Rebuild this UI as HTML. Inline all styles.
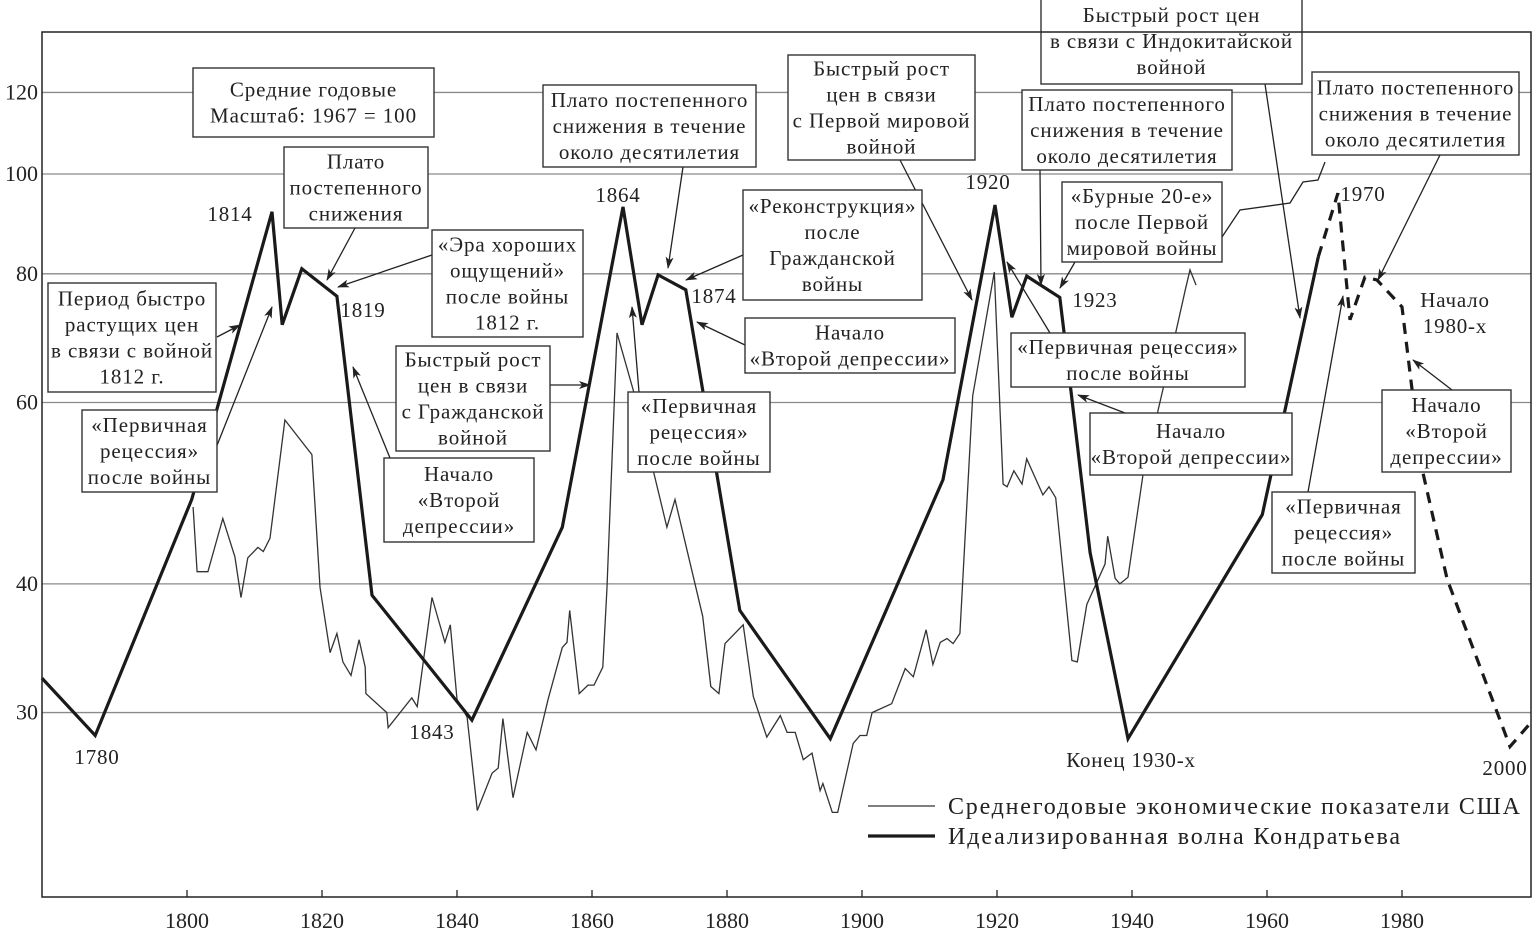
<!DOCTYPE html>
<html><head><meta charset="utf-8"><style>
html,body{margin:0;padding:0;background:#fff;}
svg{display:block;font-family:"Liberation Serif","DejaVu Serif",serif;}
</style></head><body>
<svg id="chart" width="1533" height="938" viewBox="0 0 1533 938">
<defs><marker id="ah" markerWidth="12" markerHeight="8" refX="11" refY="4" orient="auto" markerUnits="userSpaceOnUse"><path d="M0,0 L12,4 L0,8 L3,4 Z" fill="#222"/></marker></defs>
<g id="grid"></g>
<g id="series"></g>
<g id="ann"></g>
<g id="axes"></g>
</svg>
<script>
// ---- data ----
const yTicks = [120, 100, 80, 60, 40, 30];
const xTicks = [1800, 1820, 1840, 1860, 1880, 1900, 1920, 1940, 1960, 1980];
const waveYears = [1778.5,1786.4,1800.7,1812.6,1814.1,1817.0,1822.2,1827.4,1842.2,1855.6,1864.6,1867.4,1869.8,1873.9,1881.9,1895.3,1912.0,1919.7,1922.2,1924.4,1929.3,1929.9,1933.8,1939.4,1959.3,1967.6];
const waveValues = [32.4,28.5,48.3,91.9,71.4,80.9,76.1,39.0,29.5,45.4,92.9,71.4,79.8,77.2,37.7,28.3,50.5,93.3,72.6,79.6,75.9,70.5,42.9,28.3,46.7,83.1];
const forecastYears = [1967.6,1970.5,1972.3,1974.5,1976.3,1980.0,1981.5,1983.1,1986.7,1996.0,1999.4];
const forecastValues = [83.1,95.8,72.2,79.4,78.9,74.3,61.7,51.3,40.4,27.8,29.5];
const usYears = [1800.9,1801.5,1803.1,1805.3,1807.1,1808.0,1809.0,1810.5,1811.3,1812.3,1814.5,1818.5,1819.7,1821.2,1822.2,1823.1,1824.3,1825.5,1826.4,1826.5,1829.6,1829.8,1833.3,1834.1,1836.3,1838.2,1839.0,1840.0,1841.5,1843.0,1845.2,1846.1,1846.8,1848.3,1850.4,1851.7,1853.5,1855.6,1856.3,1856.7,1858.1,1859.4,1860.3,1861.6,1862.2,1863.7,1866.1,1869.3,1871.1,1872.3,1876.4,1877.6,1878.8,1879.7,1882.4,1883.9,1885.9,1887.9,1888.9,1890.1,1891.3,1892.6,1893.8,1894.2,1895.6,1896.4,1898.7,1899.7,1900.7,1901.5,1904.4,1906.4,1907.6,1909.5,1910.5,1911.6,1912.6,1913.5,1914.5,1916.4,1919.6,1920.9,1921.5,1922.5,1923.7,1924.4,1926.8,1927.7,1928.7,1931.1,1931.9,1933.3,1936.0,1936.4,1937.5,1938.2,1939.4,1941.6,1944.9,1947.9,1948.6,1949.5];
const usValues = [47.5,41.1,41.1,46.3,42.5,38.8,42.4,43.4,43.0,44.3,57.7,53.4,39.7,34.3,35.8,33.6,32.6,35.3,33.2,31.3,30.0,29.0,31.0,30.4,38.8,35.1,36.5,30.9,29.7,24.1,26.2,26.5,29.6,24.8,28.7,27.6,30.9,34.7,35.1,37.7,31.3,31.9,31.9,33.2,39.5,70.1,61.7,50.8,45.4,48.3,37.2,31.8,31.3,35.0,36.5,31.1,28.4,29.8,28.7,28.7,27.0,27.4,25.2,25.6,24.0,24.0,28.0,28.5,28.5,30.0,30.6,33.1,32.5,36.1,33.4,35.1,35.4,35.0,35.8,60.9,80.3,50.0,49.7,51.5,50.0,52.9,48.8,49.7,48.5,33.7,33.6,38.2,41.8,44.5,40.5,40.0,40.6,50.9,63.1,77.2,80.7,78.0];

// ---- scales ----
const L = 42, R = 1531, T = 32, B = 897;
function xS(yr){ return 187 + (yr - 1800) * 6.75; }
function yS(v){ return 2234 - 1030 * Math.log10(v); }
const NS = "http://www.w3.org/2000/svg";
function mk(tag, attrs, parent){ const e = document.createElementNS(NS, tag); for (const k in attrs) e.setAttribute(k, attrs[k]); parent.appendChild(e); return e; }

const grid = document.getElementById('grid');
const series = document.getElementById('series');
const ann = document.getElementById('ann');
const axes = document.getElementById('axes');

yTicks.forEach(v => {
  const ln = mk('line', {x1:L, x2:R, y1:yS(v), y2:yS(v), stroke:'#8a8a8a', 'stroke-width':1.3}, grid);
  
  
  const t = mk('text', {x:38, y:yS(v)+7, 'text-anchor':'end', 'font-size':22, fill:'#222'}, axes);
  t.textContent = v;
  
  
});
xTicks.forEach(yr => {
  const tk = mk('line', {x1:xS(yr), x2:xS(yr), y1:B, y2:B-7, stroke:'#222', 'stroke-width':1.3}, axes);
  
  
  const t = mk('text', {x:xS(yr), y:928, 'text-anchor':'middle', 'font-size':22, fill:'#222'}, axes);
  t.textContent = yr;
  
  
});
const frame = mk('path', {d:`M${L},${T} L${R},${T} L${R},${B} L${L},${B} Z`, fill:'none', stroke:'#222', 'stroke-width':1.5}, axes);



function pts(xs, ys){ return xs.map((y,i)=> xS(y).toFixed(1)+','+yS(ys[i]).toFixed(1)).join(' '); }
const usLine = mk('polyline', {points:pts(usYears, usValues), fill:'none', stroke:'#333', 'stroke-width':1.3, 'stroke-linejoin':'miter'}, series);


const waveLine = mk('polyline', {points:pts(waveYears, waveValues), fill:'none', stroke:'#1a1a1a', 'stroke-width':3.2, 'stroke-linejoin':'miter'}, series);


const fcLine = mk('polyline', {points:pts(forecastYears, forecastValues), fill:'none', stroke:'#1a1a1a', 'stroke-width':3.2, 'stroke-dasharray':'11 8'}, series);



// ---- annotations ----
const arrows = [
  [217,337,240,325],[212,458,272,307],[432,255,338,287],[355,228,327,280],[550,385,590,385],
  [390,458,353,367],[683,167,668,268],[743,255,686,280],[745,345,697,322],[639,392,632,307],
  [900,160,972,300],[1265,84,1300,318],[1040,170,1041,285],[1075,262,1060,288],[1050,333,1007,262],
  [1125,413,1078,395],[1440,155,1378,280],[1452,390,1413,360],[1308,492,1343,296]
];
arrows.forEach((a,i) => {
  const l = mk('line', {x1:a[0], y1:a[1], x2:a[2], y2:a[3], stroke:'#222', 'stroke-width':1.3, 'marker-end':'url(#ah)'}, ann);
  
  
});
const conn = mk('polyline', {points:'1222,237 1240,210 1290,203 1303,182 1318,180 1325,162', fill:'none', stroke:'#222', 'stroke-width':1.3}, ann);



const boxes = [
  [193,68,434,137,['Средние годовые','Масштаб: 1967 = 100']],
  [284,147,428,228,['Плато','постепенного','снижения']],
  [48,283,216,392,['Период быстро','растущих цен','в связи с войной','1812 г.']],
  [82,410,217,492,['«Первичная','рецессия»','после войны']],
  [432,230,583,337,['«Эра хороших','ощущений»','после войны','1812 г.']],
  [396,346,550,451,['Быстрый рост','цен в связи','с Гражданской','войной']],
  [384,458,534,542,['Начало','«Второй','депрессии»']],
  [543,85,756,167,['Плато постепенного','снижения в течение','около десятилетия']],
  [743,190,922,300,['«Реконструкция»','после','Гражданской','войны']],
  [745,318,955,373,['Начало','«Второй депрессии»']],
  [628,392,770,472,['«Первичная','рецессия»','после войны']],
  [788,55,975,160,['Быстрый рост','цен в связи','с Первой мировой','войной']],
  [1041,-2,1302,84,['Быстрый рост цен','в связи с Индокитайской','войной']],
  [1022,90,1232,170,['Плато постепенного','снижения в течение','около десятилетия']],
  [1062,182,1222,262,['«Бурные 20-е»','после Первой','мировой войны']],
  [1011,333,1245,387,['«Первичная рецессия»','после войны']],
  [1090,413,1292,475,['Начало','«Второй депрессии»']],
  [1312,72,1519,155,['Плато постепенного','снижения в течение','около десятилетия']],
  [1382,390,1511,472,['Начало','«Второй','депрессии»']],
  [1272,492,1415,573,['«Первичная','рецессия»','после войны']]
];
boxes.forEach(b => {
  const g = mk('g', {}, ann);
  
  
  mk('rect', {x:b[0], y:b[1], width:b[2]-b[0], height:b[3]-b[1], fill:'#fff', stroke:'#333', 'stroke-width':1.4}, g);
  const n = b[4].length, h = b[3]-b[1];
  const start = b[1] + (h - n*26)/2 + 20;
  b[4].forEach((s,i) => {
    const t = mk('text', {x:(b[0]+b[2])/2, y:start + i*26, 'text-anchor':'middle', 'font-size':21, 'letter-spacing':'0.9', fill:'#222'}, g);
    t.textContent = s;
  });
});
const labels = [
  [230,221,'1814'],[363,317,'1819'],[618,202,'1864'],[714,303,'1874'],[988,189,'1920'],[1095,307,'1923'],
  [97,764,'1780'],[432,739,'1843'],[1131,767,'Конец 1930-х'],[1363,201,'1970'],[1505,775,'2000'],
  [1455,307,'Начало'],[1455,333,'1980-х']
];
labels.forEach(l => {
  const t = mk('text', {x:l[0], y:l[1], 'text-anchor':'middle', 'font-size':21, 'letter-spacing':'0.8', fill:'#222'}, ann);
  t.textContent = l[2];
  
  
});

// legend
const lg = mk('g', {}, ann);


const l1 = mk('line', {x1:868, x2:935, y1:806, y2:806, stroke:'#333', 'stroke-width':1.3}, lg);


const t1 = mk('text', {x:948, y:814, 'font-size':24, textLength:572, lengthAdjust:'spacing', fill:'#222'}, lg);
t1.textContent = 'Среднегодовые экономические показатели США';


const l2 = mk('line', {x1:868, x2:935, y1:836, y2:836, stroke:'#1a1a1a', 'stroke-width':3.2}, lg);


const t2 = mk('text', {x:948, y:844, 'font-size':24, textLength:452, lengthAdjust:'spacing', fill:'#222'}, lg);
t2.textContent = 'Идеализированная волна Кондратьева';


</script>
</body></html>
